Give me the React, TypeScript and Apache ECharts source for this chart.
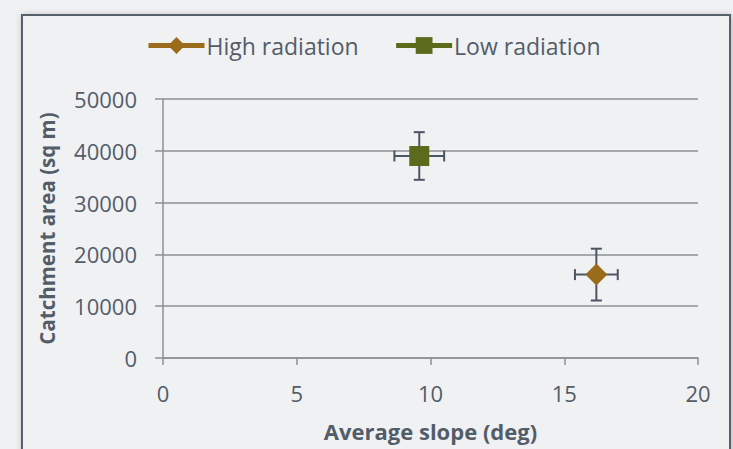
import React, { useEffect, useRef } from "react";
import * as echarts from "echarts";

const seriesNames = ["High radiation", "Low radiation"];
const slopeDeg = [16.2, 9.58];
const catchmentSqM = [16100, 39000];
const slopeErr = [0.8, 0.93];
const catchmentErr = [5000, 4600];
const seriesColors = ["#9b6b1c", "#5a6b1e"];
const seriesSymbols = ["diamond", "rect"];
const xTicks = [0, 5, 10, 15, 20];
const yTicks = [0, 10000, 20000, 30000, 40000, 50000];

const TEXT = "#535d68";
const AXIS = "#8e9093";
const ERR = "#4c5661";
const FONT = "'Open Sans', sans-serif";

export default function App() {
  const ref = useRef<HTMLDivElement>(null);
  useEffect(() => {
    document.body.style.margin = "0";
    document.body.style.background = "#f0f1f3";
    const chart = echarts.init(ref.current!, null, { renderer: "svg" });

    const errData = slopeDeg.map((x, i) => [x, catchmentSqM[i], slopeErr[i], catchmentErr[i]]);

    const option: any = {
      animation: false,
      backgroundColor: "#f0f1f3",
      textStyle: { fontFamily: FONT },
      graphic: [
        {
          type: "rect",
          shape: { x: 22, y: 15, width: 708, height: 460 },
          style: {
            fill: "#f0f1f3",
            stroke: "#56606a",
            lineWidth: 2,
            shadowBlur: 6,
            shadowColor: "rgba(0,0,0,0.25)",
            shadowOffsetX: 1,
            shadowOffsetY: 1,
          },
          z: -10,
          silent: true,
        },
      ],
      legend: {
        top: 29,
        left: 141,
        itemWidth: 56,
        itemHeight: 21,
        itemGap: 35,
        data: seriesNames,
        lineStyle: { width: 5 },
        textStyle: { color: TEXT, fontSize: 23, fontFamily: FONT, padding: [0, 0, 0, -3] },
      },
      grid: { left: 163, right: 35, top: 99, bottom: 91, containLabel: false },
      xAxis: {
        type: "value",
        min: xTicks[0],
        max: xTicks[xTicks.length - 1],
        interval: xTicks[1] - xTicks[0],
        name: "Average slope (deg)",
        nameLocation: "middle",
        nameGap: 62,
        nameTextStyle: { color: TEXT, fontSize: 22, fontWeight: "bold", fontFamily: FONT },
        axisLine: { show: true, lineStyle: { color: AXIS, width: 1.5 } },
        axisTick: { show: true, length: 7, lineStyle: { color: AXIS, width: 1.5 } },
        axisLabel: { color: TEXT, fontSize: 22, margin: 24, fontFamily: FONT },
        splitLine: { show: false },
      },
      yAxis: {
        type: "value",
        min: yTicks[0],
        max: yTicks[yTicks.length - 1],
        interval: yTicks[1] - yTicks[0],
        name: "Catchment area (sq m)",
        nameLocation: "middle",
        nameGap: 106,
        nameTextStyle: { color: TEXT, fontSize: 20.5, fontWeight: "bold", fontFamily: FONT },
        axisLine: { show: true, lineStyle: { color: AXIS, width: 1.5 } },
        axisTick: { show: true, length: 8, lineStyle: { color: AXIS, width: 1.5 } },
        axisLabel: {
          color: TEXT,
          fontSize: 22,
          margin: 26,
          fontFamily: FONT,
          formatter: (v: number) => String(v),
        },
        splitLine: { show: true, lineStyle: { color: AXIS, width: 1.5 } },
      },
      series: [
        {
          type: "custom",
          name: "err",
          z: 1,
          data: errData,
          renderItem: (params: any, api: any) => {
            const x = api.value(0);
            const y = api.value(1);
            const xe = api.value(2);
            const ye = api.value(3);
            const c = api.coord([x, y]);
            const l = api.coord([x - xe, y]);
            const r = api.coord([x + xe, y]);
            const t = api.coord([x, y + ye]);
            const b = api.coord([x, y - ye]);
            const cap = 5.5;
            const style = { stroke: ERR, lineWidth: 2 };
            const mk = (x1: number, y1: number, x2: number, y2: number) => ({
              type: "line",
              shape: { x1, y1, x2, y2 },
              style,
            });
            return {
              type: "group",
              children: [
                mk(l[0], c[1], r[0], c[1]),
                mk(c[0], t[1], c[0], b[1]),
                mk(l[0], c[1] - cap, l[0], c[1] + cap),
                mk(r[0], c[1] - cap, r[0], c[1] + cap),
                mk(c[0] - cap, t[1], c[0] + cap, t[1]),
                mk(c[0] - cap, b[1], c[0] + cap, b[1]),
              ],
            };
          },
          silent: true,
        },
        ...seriesNames.map((name, i) => ({
          type: "line",
          name,
          z: 5,
          data: [[slopeDeg[i], catchmentSqM[i]]],
          symbol: seriesSymbols[i],
          symbolSize: i === 0 ? [22, 22] : [20, 20],
          itemStyle: { color: seriesColors[i], borderWidth: 0 },
          lineStyle: { color: seriesColors[i], width: 5 },
          silent: true,
        })),
      ],
    };
    chart.setOption(option);
    return () => chart.dispose();
  }, []);
  return <div ref={ref} style={{ width: 733, height: 449 }} />;
}
